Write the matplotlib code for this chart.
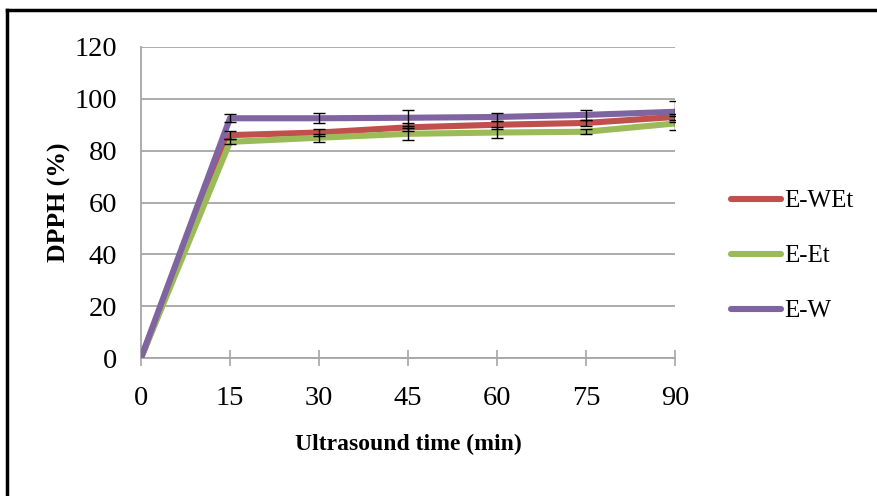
#DPPH scavenging vs ultrasound time for three extracts, with error bars

import matplotlib.pyplot as plt
import numpy as np
from matplotlib.lines import Line2D

### DATA
times = [0, 15, 30, 45, 60, 75, 90]
labels = ['E-WEt', 'E-Et', 'E-W']

e_wet = [0, 86.0, 87.0, 89.0, 90.0, 90.7, 93.0]
e_et = [0, 83.4, 85.0, 86.5, 87.0, 87.3, 90.5]
e_w = [0, 92.5, 92.5, 92.7, 93.0, 93.8, 95.0]

e_wet_err = [0, 1.5, 1.5, 1.5, 1.5, 1.0, 1.0]
e_et_err = [0, 1.0, 1.5, 2.3, 2.0, 1.0, 2.7]
e_w_err = [0, 1.5, 2.0, 3.0, 1.5, 2.0, 4.0]

yticks = [0, 20, 40, 60, 80, 100, 120]

### PLOT
plt.rcParams['font.family'] = ['Liberation Serif', 'DejaVu Serif']

fig = plt.figure(figsize=(8.78, 4.96), dpi=100)
ax = fig.add_axes([141/878, 1-358/496, (675-141)/878, (358-47)/496])

colors = ['#C0504D', '#9BBB59', '#8064A2']
series = [e_wet, e_et, e_w]
errs = [e_wet_err, e_et_err, e_w_err]

#Lines first (purple ends up on top), error bars over them
for s, c, lab in zip(series, colors, labels):
    ax.plot(times, s, color=c, lw=4.4, solid_capstyle='round', zorder=3, label=lab)
for s, e in zip(series, errs):
    ax.errorbar(times[1:], s[1:], yerr=e[1:], fmt='none', ecolor='black',
                elinewidth=1.0, capsize=4.5, capthick=1.0, zorder=4)

ax.set_xlim(0, 90)
ax.set_ylim(0, 120)
ax.set_xticks(times)
ax.set_yticks(yticks)
ax.yaxis.grid(True, color='#A6A6A6', lw=1.3)
ax.set_axisbelow(True)

for sp in ['top', 'right']:
    ax.spines[sp].set_visible(False)
for sp in ['left', 'bottom']:
    ax.spines[sp].set_color('#A6A6A6')
    ax.spines[sp].set_linewidth(1.3)

ax.tick_params(axis='x', direction='inout', length=11, width=1.2, color='#A6A6A6',
               labelsize=20.5, pad=15)
ax.tick_params(axis='y', length=0, labelsize=20.5, pad=17)

ax.set_xlabel('Ultrasound time (min)', fontsize=17, fontweight='bold', labelpad=16)
ax.set_ylabel('DPPH (%)', fontsize=18.5, fontweight='bold', labelpad=3)

#Legend to the right of the plot area
handles = [Line2D([], [], color=c, lw=4.4, solid_capstyle='round') for c in colors]
fig.legend(handles, labels, loc='center left', bbox_to_anchor=(709/878, 1-256/496),
           frameon=False, fontsize=18, handlelength=2.0, handletextpad=0.1,
           labelspacing=1.3)

#Black frame on left and top edges, as in the source image
fig.add_artist(Line2D([7/878, 7/878], [0, 1-10/496], color='black', lw=2.5,
                      transform=fig.transFigure))
fig.add_artist(Line2D([7/878, 1], [1-10/496, 1-10/496], color='black', lw=2.5,
                      transform=fig.transFigure))

plt.savefig('out.png', dpi=100)
